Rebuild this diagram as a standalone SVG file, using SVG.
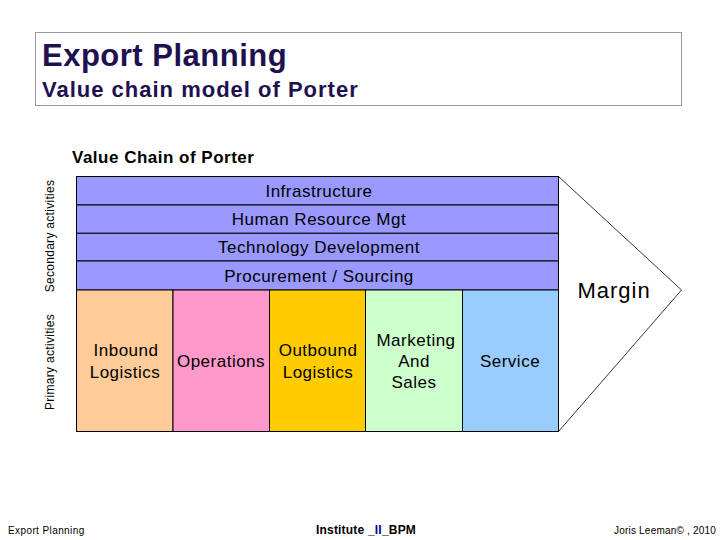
<svg xmlns="http://www.w3.org/2000/svg" width="720" height="540" viewBox="0 0 720 540">
<style>
text{font-family:"Liberation Sans",Arial,sans-serif;fill:#000}
.t{fill:#20104F;font-weight:bold}
.cell{stroke:#000;stroke-width:1}
.lbl{font-size:17px;letter-spacing:0.5px;text-anchor:middle}
.side{font-size:12px;letter-spacing:0.3px;text-anchor:middle}
</style>
<rect width="720" height="540" fill="#fff"/>
<rect x="35.5" y="32.5" width="646" height="73" fill="#fff" stroke="#999" stroke-width="1"/>
<text class="t" x="42" y="66" font-size="31" letter-spacing="0.5">Export Planning</text>
<text class="t" x="42" y="97" font-size="22" letter-spacing="1">Value chain model of Porter</text>
<text x="72" y="163" font-size="17" font-weight="bold" letter-spacing="0.5">Value Chain of Porter</text>
<text class="side" transform="translate(54,236) rotate(-90)">Secondary activities</text>
<text class="side" transform="translate(54,362) rotate(-90)">Primary activities</text>
<g id="margin">
<path d="M558.5,176.5 L681.5,290 L558.5,431.5" fill="none" stroke="#000" stroke-width="0.8"/>
<text x="614" y="298" font-size="22" letter-spacing="1" text-anchor="middle">Margin</text>
</g>
<g id="infrastructure"><rect class="cell" x="76.5" y="176.5" width="482" height="28.5" fill="#9999FF"/><text class="lbl" x="319" y="197">Infrastructure</text></g>
<g id="hrm"><rect class="cell" x="76.5" y="205" width="482" height="28.3" fill="#9999FF"/><text class="lbl" x="319" y="225">Human Resource Mgt</text></g>
<g id="tech"><rect class="cell" x="76.5" y="233.3" width="482" height="27.7" fill="#9999FF"/><text class="lbl" x="319" y="253">Technology Development</text></g>
<g id="procurement"><rect class="cell" x="76.5" y="261" width="482" height="29" fill="#9999FF"/><text class="lbl" x="319" y="282">Procurement / Sourcing</text></g>
<g id="inbound"><rect class="cell" x="76.5" y="290" width="96.5" height="141.5" fill="#FFCC99"/><text class="lbl" x="126" y="356">Inbound</text><text class="lbl" x="125" y="378">Logistics</text></g>
<g id="operations"><rect class="cell" x="173" y="290" width="96.5" height="141.5" fill="#FF99CC"/><text class="lbl" x="221" y="367">Operations</text></g>
<g id="outbound"><rect class="cell" x="269.5" y="290" width="96" height="141.5" fill="#FFCC00"/><text class="lbl" x="318" y="356">Outbound</text><text class="lbl" x="318" y="378">Logistics</text></g>
<g id="marketing"><rect class="cell" x="365.5" y="290" width="97" height="141.5" fill="#CCFFCC"/><text class="lbl" x="416" y="346">Marketing</text><text class="lbl" x="414" y="367">And</text><text class="lbl" x="414" y="388">Sales</text></g>
<g id="service"><rect class="cell" x="462.5" y="290" width="96" height="141.5" fill="#99CCFF"/><text class="lbl" x="510" y="367">Service</text></g>
<text x="8" y="534" font-size="10" letter-spacing="0.4">Export Planning</text>
<text x="366" y="534" font-size="12" font-weight="bold" letter-spacing="0.2" text-anchor="middle">Institute _<tspan fill="#0000A0">II</tspan>_BPM</text>
<text x="716" y="534" font-size="10" letter-spacing="0.2" text-anchor="end">Joris Leeman© , 2010</text>
</svg>
